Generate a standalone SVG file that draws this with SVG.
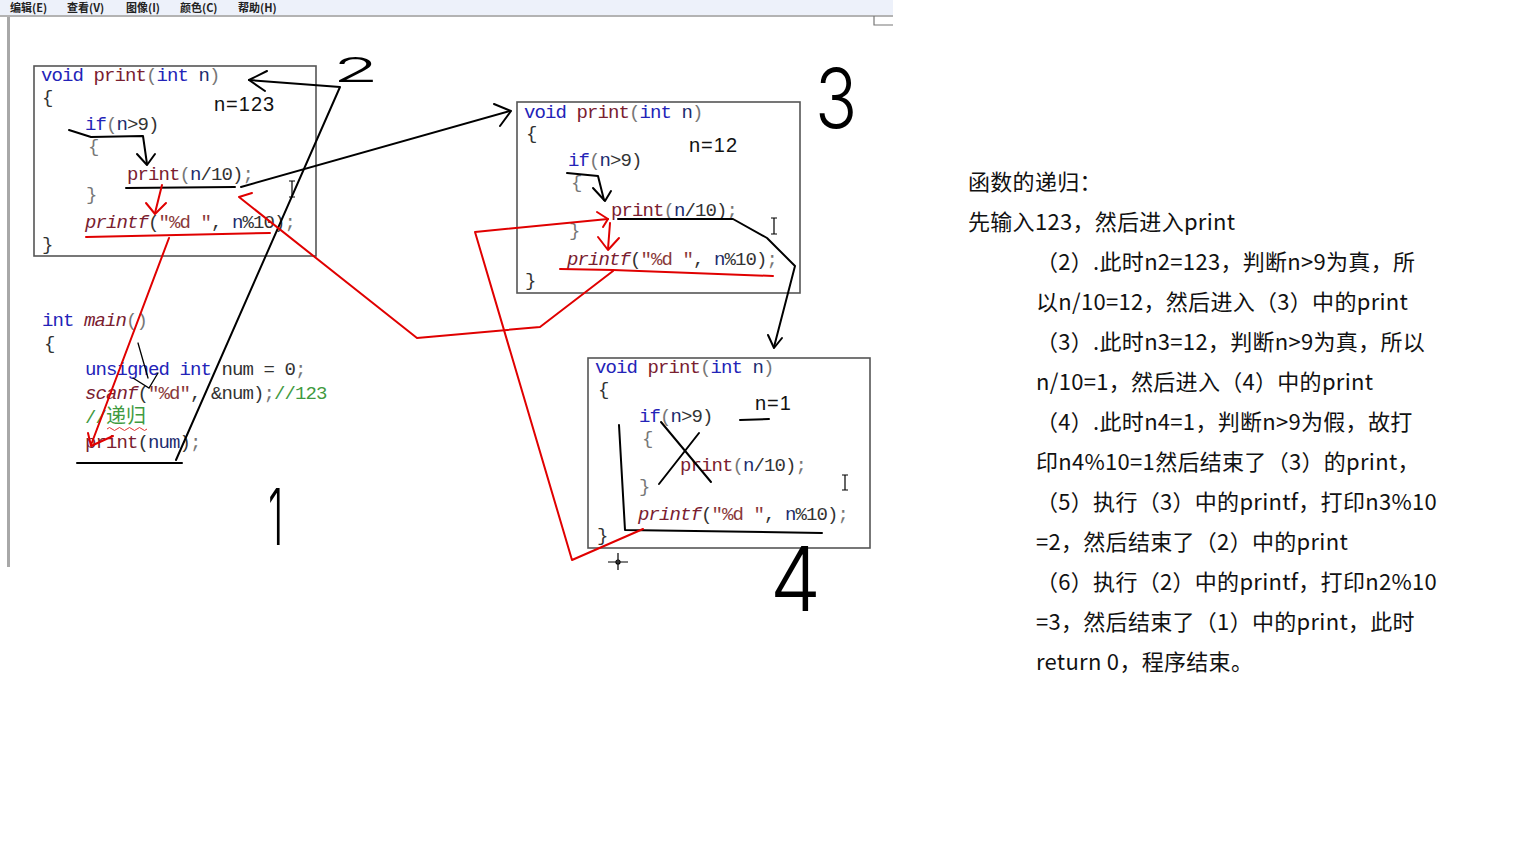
<svg xmlns="http://www.w3.org/2000/svg" width="1536" height="864" viewBox="0 0 1536 864">
<style>
.code{font-family:"Liberation Mono","DejaVu Sans Mono","Noto Sans CJK SC",monospace;font-size:19px;letter-spacing:-0.9px;fill:#333}
.kw{fill:#2323b8}
.fn{fill:#7a2030}
.va{fill:#1e2c70}
.gr{fill:#777}
.it{font-style:italic;fill:#7a2030}
.st{fill:#8a3a3a}
.cm{fill:#3f9a3f}
.lab{font-family:"Liberation Sans",Arial,sans-serif;font-size:20px;fill:#111;letter-spacing:1px}
.hand{font-family:Inter,"DejaVu Sans",sans-serif;font-weight:300;fill:#000}
.box{fill:#fff;stroke:#555;stroke-width:1.6}
.bk{fill:none;stroke:#000;stroke-width:2;stroke-linecap:round;stroke-linejoin:round}
.bkt{fill:none;stroke:#000;stroke-width:1.3;stroke-linecap:round}
.rd{fill:none;stroke:#e00000;stroke-width:2;stroke-linecap:round;stroke-linejoin:round}
.txt{font-family:"Noto Sans CJK SC","Microsoft YaHei",sans-serif;font-size:22px;letter-spacing:0.3px;fill:#111}
.menu{font-family:"Noto Sans CJK SC",sans-serif;font-size:11px;font-weight:bold;fill:#222}
</style>
<rect width="1536" height="864" fill="#fff"/>
<g id="window">
<rect x="0" y="0" width="893" height="15" fill="#edf1fa"/>
<text class="menu" y="12"><tspan x="10">编辑(E)</tspan><tspan x="67">查看(V)</tspan><tspan x="126">图像(I)</tspan><tspan x="180">颜色(C)</tspan><tspan x="238">帮助(H)</tspan></text>
<line x1="0" y1="16" x2="893" y2="16" stroke="#9a9a9a" stroke-width="1.5"/>
<polyline points="874,16 874,25 893,25" fill="none" stroke="#777" stroke-width="1.2"/>
<line x1="8.5" y1="17" x2="8.5" y2="567" stroke="#a8a8a8" stroke-width="3"/>
</g>
<g id="box1" transform="translate(34,66)">
<rect class="box" x="0" y="0" width="282" height="190"/>
<text class="code" x="7" y="15"><tspan class="kw">void</tspan> <tspan class="fn">print</tspan><tspan class="gr">(</tspan><tspan class="kw">int</tspan> <tspan class="va">n</tspan><tspan class="gr">)</tspan></text>
<text class="code" x="8" y="37">{</text>
<text class="code" x="51" y="64"><tspan class="kw">if</tspan><tspan class="gr">(</tspan><tspan class="va">n</tspan>&gt;9)</text>
<text class="code gr" x="54" y="86">{</text>
<text class="code" x="93" y="114"><tspan class="fn">print</tspan><tspan class="gr">(</tspan><tspan class="va">n</tspan>/10)<tspan class="gr">;</tspan></text>
<text class="code gr" x="52" y="134">}</text>
<text class="code" x="51" y="162"><tspan class="it">printf</tspan>(<tspan class="st">"%d "</tspan>, <tspan class="va">n</tspan>%10)<tspan class="gr">;</tspan></text>
<text class="code" x="8" y="184">}</text>
<text class="lab" x="180" y="45">n=123</text>
</g>
<g id="box2" transform="translate(517,102)">
<rect class="box" x="0" y="0" width="283" height="191"/>
<text class="code" x="7" y="16"><tspan class="kw">void</tspan> <tspan class="fn">print</tspan><tspan class="gr">(</tspan><tspan class="kw">int</tspan> <tspan class="va">n</tspan><tspan class="gr">)</tspan></text>
<text class="code" x="9" y="37">{</text>
<text class="code" x="51" y="64"><tspan class="kw">if</tspan><tspan class="gr">(</tspan><tspan class="va">n</tspan>&gt;9)</text>
<text class="code gr" x="54" y="86">{</text>
<text class="code" x="94" y="114"><tspan class="fn">print</tspan><tspan class="gr">(</tspan><tspan class="va">n</tspan>/10)<tspan class="gr">;</tspan></text>
<text class="code gr" x="52" y="134">}</text>
<text class="code" x="50" y="163"><tspan class="it">printf</tspan>(<tspan class="st">"%d "</tspan>, <tspan class="va">n</tspan>%10)<tspan class="gr">;</tspan></text>
<text class="code" x="8" y="184">}</text>
<text class="lab" x="172" y="50">n=12</text>
</g>
<g id="box3" transform="translate(588,358)">
<rect class="box" x="0" y="0" width="282" height="190"/>
<text class="code" x="7" y="15"><tspan class="kw">void</tspan> <tspan class="fn">print</tspan><tspan class="gr">(</tspan><tspan class="kw">int</tspan> <tspan class="va">n</tspan><tspan class="gr">)</tspan></text>
<text class="code" x="10" y="37">{</text>
<text class="code" x="51" y="64"><tspan class="kw">if</tspan><tspan class="gr">(</tspan><tspan class="va">n</tspan>&gt;9)</text>
<text class="code gr" x="54" y="86">{</text>
<text class="code" x="92" y="113"><tspan class="fn">print</tspan><tspan class="gr">(</tspan><tspan class="va">n</tspan>/10)<tspan class="gr">;</tspan></text>
<text class="code gr" x="51" y="134">}</text>
<text class="code" x="50" y="162"><tspan class="it">printf</tspan>(<tspan class="st">"%d "</tspan>, <tspan class="va">n</tspan>%10)<tspan class="gr">;</tspan></text>
<text class="code" x="9" y="183">}</text>
<text class="lab" x="167" y="52">n=1</text>
</g>
<g id="main">
<text class="code" x="42" y="326"><tspan class="kw">int</tspan> <tspan class="it">main</tspan><tspan class="gr">()</tspan></text>
<text class="code" x="44" y="349">{</text>
<text class="code" x="85" y="375"><tspan class="kw">unsigned</tspan> <tspan class="kw">int</tspan> num = 0<tspan class="gr">;</tspan></text>
<text class="code" x="85" y="399"><tspan class="it">scanf</tspan>(<tspan class="st">"%d"</tspan>, &amp;num)<tspan class="gr">;</tspan><tspan class="cm">//123</tspan></text>
<text class="code cm" x="85" y="423">//<tspan font-size="20px" letter-spacing="0">递归</tspan></text>
<path d="M107,429 q2.5,-3 5,0 t5,0 t5,0 t5,0 t5,0 t5,0 t5,0 t5,0" fill="none" stroke="#e03030" stroke-width="1"/>
<text class="code" x="85" y="448"><tspan class="fn">print</tspan>(<tspan class="va">num</tspan>)<tspan class="gr">;</tspan></text>
</g>
<g id="connectors">
<polyline class="bk" points="69,130 91,137 143,136 147,164"/>
<polyline class="bk" points="137,154 147,165 155,154"/>
<line class="bk" x1="126" y1="188" x2="235" y2="187"/>
<line class="bk" x1="241" y1="187" x2="510" y2="111"/>
<polyline class="bk" points="494,104 511,111 500,126"/>
<polyline class="bk" points="267,71 249,80 265,91"/>
<polyline class="bk" points="249,80 340,87 176,460"/>
<line class="bk" x1="77" y1="463" x2="182" y2="463"/>
<polyline class="bkt" points="138,343 148,378"/>
<polyline class="bkt" points="133,378 149,388 158,373"/>
<polyline class="bk" points="567,173 598,176 604,200"/>
<polyline class="bk" points="593,188 605,201 611,191"/>
<polyline class="bk" points="618,219 733,219 767,238 795,266 774,347"/>
<polyline class="bk" points="768,335 774,348 782,338"/>
<line class="bk" x1="740" y1="420" x2="769" y2="419"/>
<line class="bk" x1="661" y1="422" x2="711" y2="482"/>
<line class="bk" x1="699" y1="433" x2="659" y2="484"/>
<polyline class="bk" points="619,425 625,530 822,533"/>
<line class="rd" x1="162" y1="185" x2="155" y2="213"/>
<polyline class="rd" points="146,203 155,214 166,203"/>
<line class="rd" x1="86" y1="237" x2="270" y2="233"/>
<polyline class="rd" points="252,193 239,197 417,338 540,327 613,271"/>
<polyline class="rd" points="169,238 91,445"/>
<polyline class="rd" points="88,433 91,446 113,436"/>
<polyline class="rd" points="608,219 475,232 572,560 643,529"/>
<polyline class="rd" points="597,212 608,219 603,227"/>
<line class="rd" x1="610" y1="223" x2="608" y2="249"/>
<polyline class="rd" points="598,237 608,250 619,238"/>
<polyline class="rd" points="560,269 613,270 773,276"/>
<g stroke="#000" stroke-width="1.2" fill="none">
<path d="M289,181 h6 M292,181 v16 M289,197 h6"/>
<path d="M771,218 h6 M774,218 v16 M771,234 h6"/>
<path d="M842,475 h6 M845,475 v15 M842,490 h6"/>
<path d="M608,562 h20 M618,553 v17"/>
<circle cx="618" cy="562" r="2"/>
</g>
</g>
<g id="handwritten-numbers">
<text class="hand" font-size="48" transform="translate(333,82) scale(1.55,0.72)">2</text>
<text class="hand" font-size="82" transform="translate(815,128) scale(0.85,1)">3</text>
<text class="hand" font-size="90" transform="translate(770,611) scale(0.9,1)">4</text>
<text class="hand" font-size="78" transform="translate(268,545) scale(0.5,1)">1</text>
</g>
<g id="explanation">
<text class="txt" x="968" y="190">函数的递归：</text>
<text class="txt" x="968" y="230">先输入123，然后进入print</text>
<text class="txt" x="1036" y="270">（2）.此时n2=123，判断n&gt;9为真，所</text>
<text class="txt" x="1036" y="310">以n/10=12，然后进入（3）中的print</text>
<text class="txt" x="1036" y="350">（3）.此时n3=12，判断n&gt;9为真，所以</text>
<text class="txt" x="1036" y="390">n/10=1，然后进入（4）中的print</text>
<text class="txt" x="1036" y="430">（4）.此时n4=1，判断n&gt;9为假，故打</text>
<text class="txt" x="1036" y="470">印n4%10=1然后结束了（3）的print，</text>
<text class="txt" x="1036" y="510">（5）执行（3）中的printf，打印n3%10</text>
<text class="txt" x="1036" y="550">=2，然后结束了（2）中的print</text>
<text class="txt" x="1036" y="590">（6）执行（2）中的printf，打印n2%10</text>
<text class="txt" x="1036" y="630">=3，然后结束了（1）中的print，此时</text>
<text class="txt" x="1036" y="670">return 0，程序结束。</text>
</g>
</svg>
